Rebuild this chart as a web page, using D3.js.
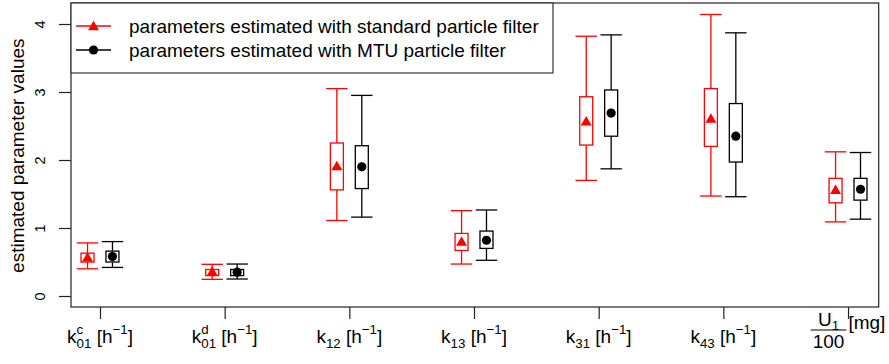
<!DOCTYPE html>
<html>
<head>
<meta charset="utf-8">
<script src="https://cdn.jsdelivr.net/npm/d3@7"></script>
<style>
  html, body { margin: 0; padding: 0; background: #fff; }
  svg { display: block; font-family: "Liberation Sans", Arial, sans-serif; }
  svg text { white-space: pre; }
</style>
</head>
<body>
<svg id="chart" width="889" height="364"></svg>
<script>
// Parameter summaries: whisker low, lower quartile, median, upper quartile, whisker high
const params = ["k01c", "k01d", "k12", "k13", "k31", "k43", "U1"];

const stdLow  = [0.40, 0.245, 1.11, 0.47, 1.70, 1.47, 1.09];
const stdQ1   = [0.50, 0.30, 1.56, 0.67, 2.22, 2.20, 1.37];
const stdMed  = [0.57, 0.36, 1.91, 0.80, 2.57, 2.61, 1.56];
const stdQ3   = [0.63, 0.39, 2.25, 0.92, 2.93, 3.05, 1.73];
const stdHigh = [0.78, 0.466, 3.05, 1.255, 3.82, 4.14, 2.12];

const mtuLow  = [0.42, 0.25, 1.16, 0.525, 1.87, 1.46, 1.13];
const mtuQ1   = [0.50, 0.30, 1.58, 0.70, 2.35, 1.97, 1.41];
const mtuMed  = [0.58, 0.35, 1.90, 0.82, 2.69, 2.35, 1.57];
const mtuQ3   = [0.66, 0.39, 2.21, 0.955, 3.03, 2.83, 1.73];
const mtuHigh = [0.80, 0.47, 2.95, 1.265, 3.84, 3.87, 2.11];

const yTicks = [0, 1, 2, 3, 4];

// Axis label pieces (base symbol, superscript, subscript, unit, unit exponent)
const xLabels = [
  { base: "k", sup: "c", sub: "01", unit: "h", exp: "\u22121" },
  { base: "k", sup: "d", sub: "01", unit: "h", exp: "\u22121" },
  { base: "k", sup: "",  sub: "12", unit: "h", exp: "\u22121" },
  { base: "k", sup: "",  sub: "13", unit: "h", exp: "\u22121" },
  { base: "k", sup: "",  sub: "31", unit: "h", exp: "\u22121" },
  { base: "k", sup: "",  sub: "43", unit: "h", exp: "\u22121" },
  { num: "U", numSub: "1", den: "100", unit: "mg" }
];

const legendLabels = [
  "parameters estimated with standard particle filter",
  "parameters estimated with MTU particle filter"
];
const seriesColors = ["#ff0000", "#000000"];

const svg = d3.select("#chart");
const plot = { left: 71, right: 878.7, top: 3, bottom: 307 };

const x = d3.scaleLinear().domain([0.7674, 7.246]).range([plot.left, plot.right]);
const y = d3.scaleLinear().domain([0, 4]).range([296, 24]);

const offset = 0.1;     // horizontal shift of each series from the category centre
const boxHalf = 6.5;    // half box width in px
const capHalf = 10.7;   // half whisker cap width in px

const series = [
  { low: stdLow, q1: stdQ1, med: stdMed, q3: stdQ3, high: stdHigh, dx: -offset, color: seriesColors[0], shape: "tri" },
  { low: mtuLow, q1: mtuQ1, med: mtuMed, q3: mtuQ3, high: mtuHigh, dx: offset, color: seriesColors[1], shape: "dot" }
];

function marker(g, shape, cx, cy, color) {
  if (shape === "tri") {
    const s = d3.symbol().type(d3.symbolTriangle).size(52);
    g.append("path").attr("d", s()).attr("transform", `translate(${cx},${cy + 1})`).attr("fill", color);
  } else {
    g.append("circle").attr("cx", cx).attr("cy", cy).attr("r", 4.6).attr("fill", color);
  }
}

// Box / whisker marks
series.forEach(s => {
  const g = svg.append("g").attr("stroke", s.color).attr("fill", "none").attr("stroke-width", 1.3);
  params.forEach((p, i) => {
    const cx = x(i + 1 + s.dx);
    g.append("line").attr("x1", cx).attr("x2", cx).attr("y1", y(s.low[i])).attr("y2", y(s.high[i]));
    g.append("line").attr("x1", cx - capHalf).attr("x2", cx + capHalf).attr("y1", y(s.low[i])).attr("y2", y(s.low[i]));
    g.append("line").attr("x1", cx - capHalf).attr("x2", cx + capHalf).attr("y1", y(s.high[i])).attr("y2", y(s.high[i]));
    g.append("rect").attr("x", cx - boxHalf).attr("width", boxHalf * 2)
      .attr("y", y(s.q3[i])).attr("height", y(s.q1[i]) - y(s.q3[i]))
      .attr("fill", "#fff");
    marker(svg, s.shape, cx, y(s.med[i]), s.color);
  });
});

// Plot frame
svg.append("rect")
  .attr("x", plot.left).attr("y", plot.top)
  .attr("width", plot.right - plot.left).attr("height", plot.bottom - plot.top)
  .attr("fill", "none").attr("stroke", "#222").attr("stroke-width", 1.2);

// Y axis
const yAxis = d3.axisLeft(y).tickValues(yTicks).tickSize(12).tickFormat(d3.format("d"));
const ya = svg.append("g").attr("transform", `translate(${plot.left},0)`).call(yAxis);
ya.select(".domain").remove();
ya.selectAll(".tick line").attr("stroke", "#222").attr("stroke-width", 1.2);
ya.selectAll(".tick text").remove();
ya.selectAll(".tick").append("text")
  .attr("transform", "translate(-26,0) rotate(-90)")
  .attr("text-anchor", "middle")
  .attr("fill", "#000")
  .attr("font-size", 14.5)
  .text(d => d);

svg.append("text")
  .attr("transform", `translate(24,155.7) rotate(-90)`)
  .attr("text-anchor", "middle")
  .attr("font-size", 19)
  .text("estimated parameter values");

// X axis ticks
const xAxis = d3.axisBottom(x).tickValues(d3.range(1, params.length + 1)).tickSize(12).tickFormat("");
const xa = svg.append("g").attr("transform", `translate(0,${plot.bottom})`).call(xAxis);
xa.select(".domain").remove();
xa.selectAll(".tick line").attr("stroke", "#222").attr("stroke-width", 1.2);

// X tick labels with sub/superscripts
const FS = 19, SS = 13.3;
xLabels.forEach((lab, i) => {
  const g = svg.append("g");
  let cx = 0;
  const put = (txt, size, yy) => {
    const t = g.append("text").attr("x", cx).attr("y", yy).attr("font-size", size).text(txt);
    return t.node().getComputedTextLength();
  };
  if (lab.num) {
    // fraction U_1 / 100 (one text element) followed by the unit
    const ft = g.append("text");
    const tU = ft.append("tspan").attr("y", -17).attr("font-size", FS).text(lab.num);
    const t1 = ft.append("tspan").attr("y", -13.5).attr("font-size", SS).text(lab.numSub);
    const tD = ft.append("tspan").attr("y", 5).attr("font-size", FS).text(lab.den);
    const wU = tU.node().getComputedTextLength();
    const w1 = t1.node().getComputedTextLength();
    const wDen = tD.node().getComputedTextLength();
    const wNum = wU + w1;
    const w = Math.max(wNum, wDen) + 4;
    tU.attr("x", (w - wNum) / 2);
    t1.attr("x", (w - wNum) / 2 + wU);
    tD.attr("x", (w - wDen) / 2);
    g.append("line").attr("x1", 0).attr("x2", w).attr("y1", -13).attr("y2", -13)
      .attr("stroke", "#000").attr("stroke-width", 1.2);
    cx = w + 2;
    put("[" + lab.unit + "]", FS, -14);
  } else {
    cx += put(lab.base, FS, 0);
    let w1 = 0, w2 = 0;
    if (lab.sup) w1 = put(lab.sup, SS, -9.5);
    if (lab.sub) w2 = put(lab.sub, SS, 4.5);
    cx += Math.max(w1, w2);
    cx += put("\u00a0[" + lab.unit, FS, 0);
    cx += put(lab.exp, SS, -9);
    cx += put("]", FS, 0);
  }
  const bb = g.node().getBBox();
  g.attr("transform", `translate(${x(i + 1) - bb.x - bb.width / 2},343)`);
});

// Legend
const leg = svg.append("g");
leg.append("rect").attr("x", plot.left).attr("y", plot.top).attr("width", 482).attr("height", 70)
  .attr("fill", "#fff").attr("stroke", "#333").attr("stroke-width", 1.2);
legendLabels.forEach((txt, i) => {
  const ly = 26 + i * 24;
  leg.append("line").attr("x1", 76).attr("x2", 111).attr("y1", ly).attr("y2", ly)
    .attr("stroke", seriesColors[i]).attr("stroke-width", 1.3);
  marker(leg, series[i].shape, 93.5, ly, seriesColors[i]);
  leg.append("text").attr("x", 129).attr("y", ly + 7).attr("font-size", FS).text(txt);
});
</script>
</body>
</html>
